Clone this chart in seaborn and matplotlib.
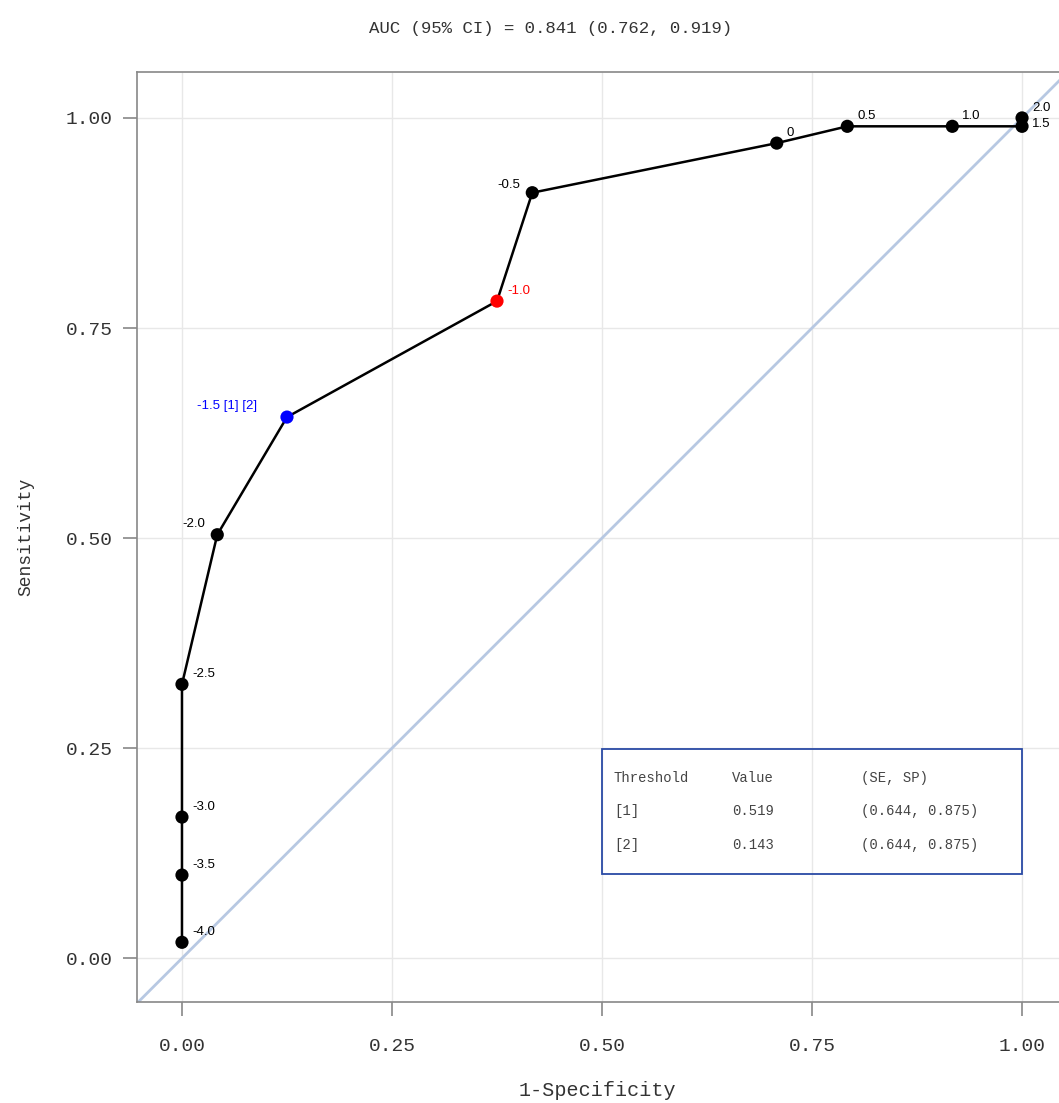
import numpy as np
import pandas as pd
import matplotlib
matplotlib.use("Agg")
import matplotlib.pyplot as plt
import seaborn as sns
from matplotlib.patches import Rectangle

# ROC points
thresholds = ["-4.0", "-3.5", "-3.0", "-2.5", "-2.0", "-1.5", "-1.0", "-0.5", "0", "0.5", "1.0", "1.5", "2.0"]
fpr = [0.0, 0.0, 0.0, 0.0, 0.042, 0.125, 0.375, 0.417, 0.708, 0.792, 0.917, 1.0, 1.0]
tpr = [0.019, 0.099, 0.168, 0.326, 0.504, 0.644, 0.782, 0.911, 0.970, 0.990, 0.990, 0.990, 1.0]
point_labels = ["-4.0", "-3.5", "-3.0", "-2.5", "-2.0", "-1.5 [1] [2]", "-1.0", "-0.5", "0", "0.5", "1.0", "1.5", "2.0"]
point_kind = ["plain"] * 5 + ["best"] + ["chosen"] + ["plain"] * 6

title = "AUC (95% CI) = 0.841 (0.762, 0.919)"
table_header = ["Threshold", "Value", "(SE, SP)"]
table_rows = [["[1]", "0.519", "(0.644, 0.875)"],
              ["[2]", "0.143", "(0.644, 0.875)"]]
ticks = [0.0, 0.25, 0.50, 0.75, 1.00]

df = pd.DataFrame({"fpr": fpr, "tpr": tpr, "kind": point_kind, "label": point_labels})

sns.set_theme(style="whitegrid")
mono = "Liberation Mono"
plt.rcParams["font.family"] = ["Liberation Mono", "DejaVu Sans Mono"]

fig = plt.figure(figsize=(10.59, 11.03), dpi=100)
ax = fig.add_axes([0.129, 0.0916, 0.871, 0.8434])

lims = (-0.054, 1.044)
ylims = (-0.052, 1.055)

# chance diagonal
ax.plot([-0.1, 1.2], [-0.1, 1.2], color="#b7c8e2", lw=2, zorder=1)

sns.lineplot(data=df, x="fpr", y="tpr", sort=False, color="black", lw=1.8,
             estimator=None, ax=ax, zorder=3)
palette = {"plain": "black", "best": "blue", "chosen": "red"}
sns.scatterplot(data=df, x="fpr", y="tpr", hue="kind", palette=palette,
                s=90, edgecolor="none", legend=False, ax=ax, zorder=4)

# point labels (offsets in pixels)
offsets = {"-0.5": (-12, 8, "right"), "-2.0": (-12, 11, "right"), "-1.5 [1] [2]": (-30, 11, "right")}
colors = {"plain": "black", "best": "blue", "chosen": "red"}
for x, y, lab, kind in zip(fpr, tpr, point_labels, point_kind):
    dx, dy, ha = offsets.get(lab, (10, 10, "left"))
    if lab == "1.5":
        dy = 2
    ax.annotate(lab, (x, y), xytext=(dx, dy), textcoords="offset pixels",
                ha=ha, va="center", fontsize=9.5, color=colors[kind],
                family="Liberation Sans")

# threshold table box
ax.add_patch(Rectangle((0.5, 0.1), 0.5, 0.149, fill=False, edgecolor="#2a4aa5",
                       lw=1.3, zorder=5))
col_x = [0.514, 0.655, 0.808]
row_y = [0.214, 0.175, 0.135]
for cx, txt in zip(col_x, table_header):
    ax.text(cx, row_y[0], txt, fontsize=10, color="#444444", va="center", family=mono)
for ry, row in zip(row_y[1:], table_rows):
    for cx, txt in zip(col_x, row):
        ax.text(cx, ry, txt, fontsize=10, color="#444444", va="center", family=mono)

ax.set_xlim(lims)
ax.set_ylim(ylims)
ax.set_xticks(ticks)
ax.set_yticks(ticks)
ax.set_xticklabels([f"{t:.2f}" for t in ticks])
ax.set_yticklabels([f"{t:.2f}" for t in ticks])
ax.grid(True, color="#e8e8e8", lw=1)
ax.tick_params(axis="x", bottom=True, length=10, width=1.2, color="#888888",
               labelsize=14, pad=16, labelcolor="#333333")
ax.tick_params(axis="y", left=True, length=10, width=1.2, color="#888888",
               labelsize=14, pad=7, labelcolor="#333333")

for side in ["left", "bottom", "top"]:
    ax.spines[side].set_visible(True)
    ax.spines[side].set_color("#888888")
    ax.spines[side].set_linewidth(1.2)
ax.spines["right"].set_visible(False)

ax.set_xlabel("1-Specificity", fontsize=14.5, color="#333333", labelpad=19)
ax.set_ylabel("Sensitivity", fontsize=13, color="#333333", labelpad=23)
fig.suptitle(title, fontsize=12.5, x=0.52, y=0.981, color="#333333")

fig.savefig("out.png", dpi=100)
